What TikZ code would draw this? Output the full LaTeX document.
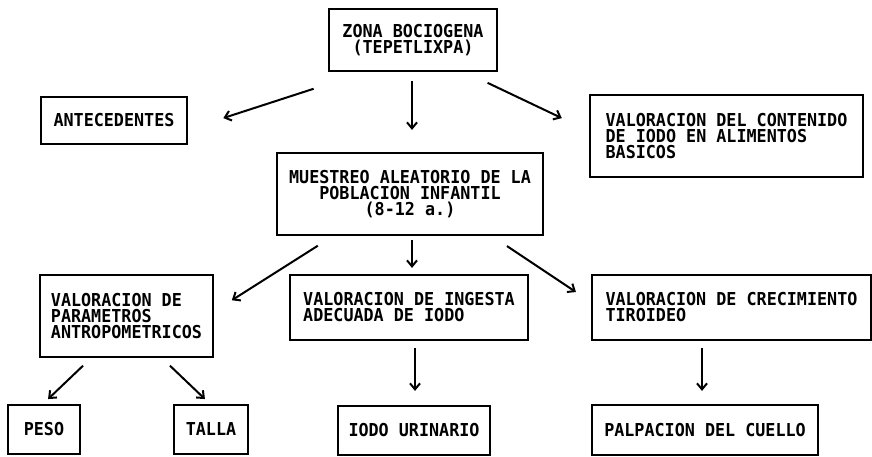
\documentclass[tikz,border=0pt]{standalone}
\usepackage{fontspec}
\usepackage{tikz}
\usetikzlibrary{arrows.meta}
\newfontfamily\boxfont{DejaVu Sans Mono}[FakeStretch=0.94]

\tikzset{
  caja/.style={draw=black, line width=2.2pt, align=center, inner sep=0pt,
               font=\boxfont\bfseries\fontsize{17.8}{16}\selectfont},
  cajaizq/.style={caja, align=left},
  flecha/.style={-{Straight Barb[length=6pt,width=10pt]}, line width=2pt}
}

\begin{document}
\begin{tikzpicture}[x=1pt,y=-1pt]
	\useasboundingbox (0,0) rectangle (872,457);
	\node[caja,minimum width=168,minimum height=62] (zona) at (413,40)
	    {ZONA BOCIOGENA\\(TEPETLIXPA)};
	\node[caja,minimum width=146,minimum height=47] (ante) at (114,120.5)
	    {ANTECEDENTES};
	\node[cajaizq,minimum width=273,minimum height=82] (cont) at (726.5,136)
	    {VALORACION DEL CONTENIDO\\DE IODO EN ALIMENTOS\\BASICOS};
	\node[caja,minimum width=266,minimum height=82] (mues) at (410,194)
	    {MUESTREO ALEATORIO DE LA\\POBLACION INFANTIL\\(8-12 a.)};
	\node[cajaizq,minimum width=173,minimum height=82] (param) at (126.5,316)
	    {VALORACION DE\\PARAMETROS\\ANTROPOMETRICOS};
	\node[cajaizq,minimum width=238,minimum height=65] (ingesta) at (409,307.5)
	    {VALORACION DE INGESTA\\ADECUADA DE IODO};
	\node[cajaizq,minimum width=279,minimum height=65] (crec) at (731.5,307.5)
	    {VALORACION DE CRECIMIENTO\\TIROIDEO};
	\node[caja,minimum width=72,minimum height=49] (peso) at (44,429.5)   {PESO};
	\node[caja,minimum width=74,minimum height=49] (talla) at (211,429.5) {TALLA};
	\node[caja,minimum width=152,minimum height=49] (iodo) at (414,430.5) {IODO URINARIO};
	\node[caja,minimum width=226,minimum height=50] (palp) at (705,430)   {PALPACION DEL CUELLO};
	% primer nivel
	\path[flecha,shorten <=54pt,shorten >=37pt]
	    ([xshift=-48pt]zona.south) edge ([yshift=-9pt]ante.east);
	\path[flecha,shorten <=9pt,shorten >=22pt]
	    ([xshift=-1pt]zona.south) edge ([xshift=2pt]mues.north);
	\path[flecha,shorten <=25pt,shorten >=30pt]
	    ([xshift=52pt]zona.south) edge ([yshift=5pt]cont.west);
	% segundo nivel
	\path[flecha,shorten <=18pt,shorten >=21pt]
	    ([xshift=-77pt]mues.south) edge ([yshift=4.5pt]param.east);
	\path[flecha,shorten <=4pt,shorten >=6pt]
	    ([xshift=2pt]mues.south) edge ([xshift=3pt]ingesta.north);
	\path[flecha,shorten <=18pt,shorten >=18pt]
	    ([xshift=82pt]mues.south) edge ([yshift=5.5pt]crec.west);
	% tercer nivel
	\path[flecha,shorten <=11pt,shorten >=7pt]
	    ([xshift=-35.5pt]param.south) edge ([xshift=-1pt]peso.north);
	\path[flecha,shorten <=11pt,shorten >=7pt]
	    ([xshift=35.5pt]param.south) edge ([xshift=-1pt]talla.north);
	\path[flecha,shorten <=7pt,shorten >=14pt]
	    ([xshift=6pt]ingesta.south) edge ([xshift=1pt]iodo.north);
	\path[flecha,shorten <=7pt,shorten >=13pt]
	    ([xshift=-29.5pt]crec.south) edge ([xshift=-3pt]palp.north);
\end{tikzpicture}
\end{document}
